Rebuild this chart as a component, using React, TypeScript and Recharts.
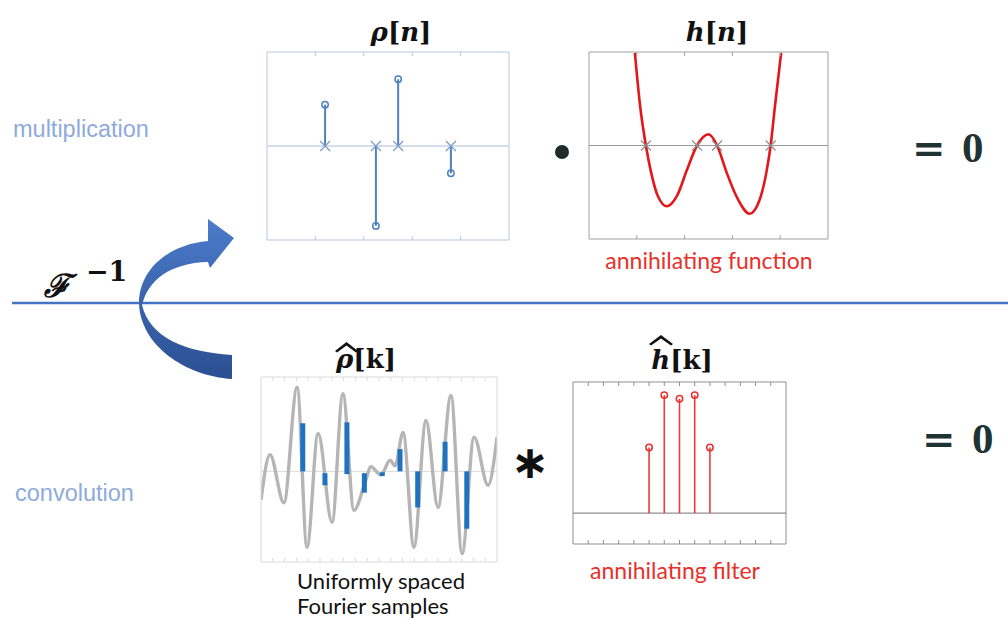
import React from "react";
import { ComposedChart, Line, Scatter, XAxis, YAxis, ReferenceLine } from "recharts";

// rho[n]: spike locations / amplitudes (top left panel)
const rhoLoc = [1.2, 2.25, 2.71, 3.8];
const rhoAmp = [0.44, -0.85, 0.71, -0.29];
const nTicks = [1, 2, 3, 4];

// h[n]: annihilating function
const hX = [0.96, 1.07, 1.19, 1.3, 1.44, 1.63, 1.84, 2.05, 2.26, 2.5, 2.68, 2.88, 3.12, 3.36, 3.57, 3.71, 3.8, 3.89, 4.02];
const hY = [0.99, 0.42, 0, -0.29, -0.54, -0.65, -0.54, -0.26, 0, 0.12, 0, -0.29, -0.58, -0.73, -0.58, -0.29, 0, 0.42, 0.99];
const hRoots = [1.19, 2.26, 2.68, 3.8];

// rho_hat[k]: continuous spectrum (grey) + uniform samples (blue)
const specX = [0, 0.38, 0.97, 1.53, 1.95, 2.42, 3.01, 3.47, 3.94, 4.41, 4.66, 5.08, 5.47, 5.68, 6.02, 6.48, 6.99, 7.5, 8.05, 8.52, 9.03, 9.62, 10];
const specY = [-0.31, 0.18, -0.34, 0.91, -0.82, 0.41, -0.55, 0.84, -0.42, -0.12, 0.05, -0.04, 0.12, 0.06, 0.42, -0.82, 0.55, -0.39, 0.82, -0.89, 0.37, -0.15, 0.37];
const sampleK = [1.77, 2.71, 3.64, 4.38, 5.14, 5.89, 6.64, 7.8, 8.72];
const sampleLo = [0, -0.02, -0.03, -0.02, -0.01, 0, 0, 0, 0];
const sampleHi = [0.52, -0.15, 0.53, -0.23, -0.05, 0.24, -0.39, 0.32, -0.62];
const kTicks = [0.5, 1, 1.5, 2, 2.5, 3, 3.5, 4, 4.5, 5, 5.5, 6, 6.5, 7, 7.5, 8, 8.5, 9, 9.5];

// h_hat[k]: annihilating filter taps
const filtK = [5, 6, 7, 8, 9];
const filtTap = [0.55, 0.99, 0.96, 0.99, 0.55];
const filtTicks = [1, 2, 3, 4, 5, 6, 7, 8, 9, 10, 11, 12, 13];

const PAD = 3;
const TICK = 4;

type Box = { x: number; y: number; w: number; h: number };

// short inward tick, no label (tickMargin 0 puts p.y at the inner end)
const innerTick = (color: string, top: boolean) => (p: any) => (
  <line
    x1={p.x}
    x2={p.x}
    y1={top ? p.y - TICK : p.y}
    y2={top ? p.y : p.y + TICK}
    stroke={color}
    strokeWidth={1}
  />
);

// a bare plot box: four mirrored axes give the frame and the inward ticks
function Frame({ box, xDomain, yDomain, ticks, edge, data, bare, children }: any) {
  const b: Box = box;
  return (
    <div style={{ position: "absolute", left: b.x - PAD, top: b.y - PAD }}>
      <ComposedChart
        width={b.w + 2 * PAD}
        height={b.h + 2 * PAD}
        data={data}
        margin={{ top: PAD, right: PAD, bottom: PAD, left: PAD }}
      >
        <XAxis type="number" dataKey="x" domain={xDomain} allowDataOverflow ticks={ticks} interval={0}
          tick={innerTick(edge, false)} tickLine={false} tickMargin={0} tickSize={TICK}
          mirror height={1} stroke={edge} hide={bare} />
        <XAxis xAxisId="t" orientation="top" type="number" dataKey="x" domain={xDomain} allowDataOverflow
          ticks={ticks} interval={0} tick={innerTick(edge, true)} tickLine={false} tickMargin={0} tickSize={TICK}
          mirror height={1} stroke={edge} hide={bare} />
        <YAxis type="number" dataKey="y" domain={yDomain} allowDataOverflow tick={false} tickLine={false}
          mirror width={1} stroke={edge} hide={bare} />
        <YAxis yAxisId="r" orientation="right" type="number" domain={yDomain} allowDataOverflow tick={false}
          tickLine={false} mirror width={1} stroke={edge} hide={bare} />
        {children}
      </ComposedChart>
    </div>
  );
}

const ring = (color: string) => (p: any) => (
  <circle cx={p.cx} cy={p.cy} r={3.2} fill="none" stroke={color} strokeWidth={1.5} />
);
const cross = (color: string) => (p: any) => (
  <path
    d={`M${p.cx - 5},${p.cy - 5}L${p.cx + 5},${p.cy + 5}M${p.cx - 5},${p.cy + 5}L${p.cx + 5},${p.cy - 5}`}
    stroke={color}
    strokeWidth={1.2}
    fill="none"
  />
);

function RhoPanel() {
  const tips = rhoLoc.map((x, i) => ({ x, y: rhoAmp[i] }));
  const zeros = rhoLoc.map((x) => ({ x, y: 0 }));
  return (
    <Frame box={{ x: 267, y: 52, w: 242, h: 188 }} xDomain={[0, 5]} yDomain={[-1, 1]} ticks={nTicks} edge="#b7c9dd">
      <ReferenceLine y={0} stroke="#a9bfd8" strokeWidth={1.2} />
      {tips.map((d) => (
        <ReferenceLine key={d.x} segment={[{ x: d.x, y: 0 }, { x: d.x, y: d.y }]} stroke="#4f81bd" strokeWidth={2} />
      ))}
      <Scatter data={zeros} shape={cross("#7f9fc6")} isAnimationActive={false} />
      <Scatter data={tips} shape={ring("#4f81bd")} isAnimationActive={false} />
    </Frame>
  );
}

function HPanel() {
  const curve = hX.map((x, i) => ({ x, y: hY[i] }));
  const roots = hRoots.map((x) => ({ x, y: 0 }));
  return (
    <Frame box={{ x: 589, y: 52, w: 239, h: 187 }} xDomain={[0, 5]} yDomain={[-1, 1]} ticks={nTicks} edge="#a0a0a0" data={curve}>
      <ReferenceLine y={0} stroke="#9a9a9a" strokeWidth={1.2} />
      <Line type="monotone" dataKey="y" stroke="#e3161b" strokeWidth={2.6} dot={false} isAnimationActive={false} />
      <Scatter data={roots} shape={cross("#909090")} isAnimationActive={false} />
    </Frame>
  );
}

function SpecPanel() {
  const curve = specX.map((x, i) => ({ x, y: specY[i] }));
  const box = { x: 261, y: 377, w: 236, h: 185 };
  return (
    <>
      <Frame box={box} xDomain={[0, 10]} yDomain={[-0.98, 1.02]} ticks={kTicks} edge="#dadada" data={curve}>
        <ReferenceLine y={0} stroke="#dcdcdc" strokeWidth={1} />
        <Line type="monotone" dataKey="y" stroke="#b5b5b5" strokeWidth={3.4} dot={false} isAnimationActive={false} />
      </Frame>
      <Frame box={box} xDomain={[0, 10]} yDomain={[-0.98, 1.02]} ticks={kTicks} edge="none" bare>
        {sampleK.map((k, i) => (
          <ReferenceLine
            key={k}
            segment={[{ x: k, y: sampleLo[i] }, { x: k, y: sampleHi[i] }]}
            stroke="#1f72c0"
            strokeWidth={5}
          />
        ))}
      </Frame>
    </>
  );
}

function FilterPanel() {
  const taps = filtK.map((x, i) => ({ x, y: filtTap[i] }));
  return (
    <Frame box={{ x: 573, y: 382, w: 213, h: 162 }} xDomain={[0, 14]} yDomain={[-0.26, 1.1]} ticks={filtTicks} edge="#8f8f8f">
      <ReferenceLine y={0} stroke="#8f8f8f" strokeWidth={1.2} />
      {taps.map((d) => (
        <ReferenceLine key={d.x} segment={[{ x: d.x, y: 0 }, { x: d.x, y: d.y }]} stroke="#ee3a3a" strokeWidth={1.6} />
      ))}
      <Scatter data={taps} shape={ring("#e83030")} isAnimationActive={false} />
    </Frame>
  );
}

const MATH = "DejaVu Serif";

function Overlay() {
  return (
    <svg width={1008} height={619} style={{ position: "absolute", left: 0, top: 0, pointerEvents: "none" }}>
      <defs>
        <linearGradient id="arrowFill" x1="0" y1="0" x2="0" y2="1">
          <stop offset="0" stopColor="#4b7bcb" />
          <stop offset="1" stopColor="#2b4f91" />
        </linearGradient>
      </defs>

      <text x={13} y={137} fontFamily="Liberation Sans" fontSize={23.5} fill="#8eaadb">multiplication</text>
      <text x={15} y={501} fontFamily="Liberation Sans" fontSize={23.5} fill="#8eaadb">convolution</text>

      <line x1={12} y1={303} x2={1008} y2={303} stroke="#4472c4" strokeWidth={2.5} />
      <path
        d="M232,379 C185,376 140,345 139,303 C139,272 165,245 208,241 L208,219 L234,238 L210,268 L208,262 C170,263 148,280 142,305 C150,338 185,352 232,355 Z"
        fill="url(#arrowFill)"
      />

      <text x={44} y={297} fontFamily={MATH} fontStyle="italic" fontWeight="bold" fontSize={32} fill="#111">ℱ</text>
      <text x={86} y={281} fontFamily={MATH} fontWeight="bold" fontSize={27} fill="#111">−1</text>

      <text x={401} y={41} textAnchor="middle" fontFamily={MATH} fontWeight="bold" fontSize={26} fill="#111">
        <tspan fontStyle="italic">ρ</tspan>[<tspan fontStyle="italic">n</tspan>]
      </text>
      <text x={717} y={41} textAnchor="middle" fontFamily={MATH} fontWeight="bold" fontSize={26} fill="#111">
        <tspan fontStyle="italic">h</tspan>[<tspan fontStyle="italic">n</tspan>]
      </text>

      <text x={366} y={368} textAnchor="middle" fontFamily={MATH} fontWeight="bold" fontSize={26} fill="#111">
        <tspan fontStyle="italic">ρ</tspan>[k]
      </text>
      <path d="M335,351 L346.5,342 L358,351 L356,352.5 L346.5,345.5 L337,352.5 Z" fill="#111" />

      <text x={682} y={369} textAnchor="middle" fontFamily={MATH} fontWeight="bold" fontSize={26} fill="#111">
        <tspan fontStyle="italic">h</tspan>[k]
      </text>
      <path d="M649,344 L661,335 L673,344 L671,345.5 L661,338.5 L651,345.5 Z" fill="#111" />

      <circle cx={562} cy={152} r={7} fill="#1d2b2b" />
      <text x={530} y={478} textAnchor="middle" fontFamily="DejaVu Sans" fontWeight="bold" fontSize={46} fill="#111">∗</text>

      <text x={912} y={162} fontFamily={MATH} fontWeight="bold" fontSize={40} fill="#1f3333">=</text>
      <text x={962} y={162} fontFamily="Liberation Serif" fontWeight="bold" fontSize={43} fill="#1f3333">0</text>
      <text x={922} y={453} fontFamily={MATH} fontWeight="bold" fontSize={40} fill="#1f3333">=</text>
      <text x={972} y={453} fontFamily="Liberation Serif" fontWeight="bold" fontSize={43} fill="#1f3333">0</text>

      <text x={709} y={269} textAnchor="middle" fontFamily="Lato" fontSize={23} fill="#e8312b">annihilating function</text>
      <text x={675} y={579} textAnchor="middle" fontFamily="Lato" fontSize={23} fill="#e8312b">annihilating filter</text>
      <text x={297} y={589} fontFamily="Lato" fontSize={22} fill="#111">Uniformly spaced</text>
      <text x={297} y={614} fontFamily="Lato" fontSize={22} fill="#111">Fourier samples</text>
    </svg>
  );
}

export default function App() {
  return (
    <div style={{ position: "absolute", left: 0, top: 0, width: 1008, height: 619, background: "#fff", overflow: "hidden" }}>
      <RhoPanel />
      <HPanel />
      <SpecPanel />
      <FilterPanel />
      <Overlay />
    </div>
  );
}
